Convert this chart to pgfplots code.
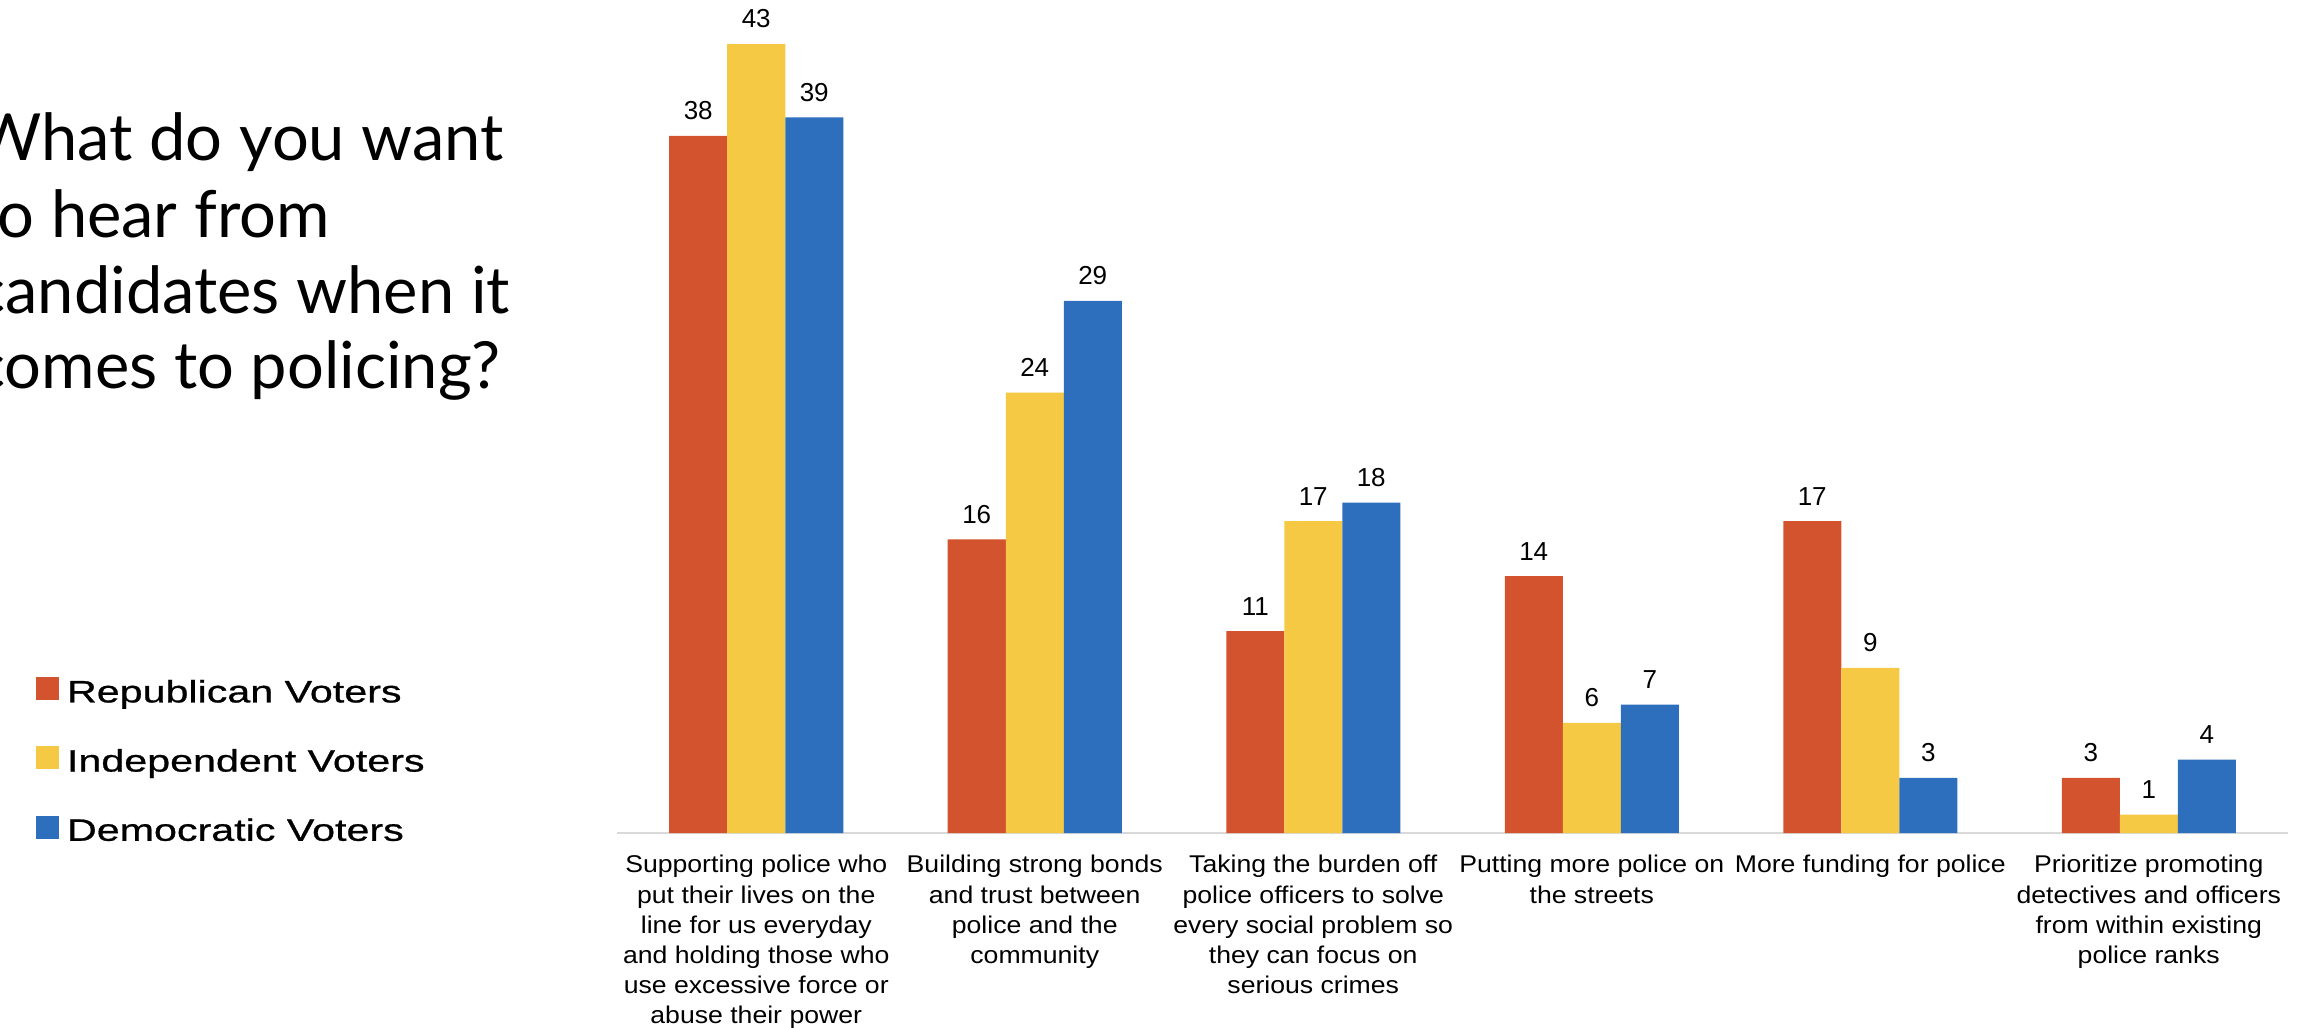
\documentclass[border=0pt]{standalone}
\usepackage{fontspec}
\setmainfont{Liberation Sans}
\newfontfamily\labelfont{Liberation Sans}[FakeStretch=1.1]
\newfontfamily\legendfont{Liberation Sans}[FakeStretch=1.33,FakeBold=0.8]
\newfontfamily\titlefont{Lato}
\usepackage{pgfplots}
\pgfplotsset{compat=1.18}
\definecolor{rep}{HTML}{D4532F}
\definecolor{ind}{HTML}{F6C945}
\definecolor{dem}{HTML}{2E6FBD}
\definecolor{axisgray}{HTML}{D9D9D9}
\begin{document}
\begin{tikzpicture}
\useasboundingbox (0pt,0pt) rectangle (1151.5pt,-514pt);
\tikzset{ttl/.style={anchor=base west, inner sep=0pt, font=\titlefont\fontsize{32.5}{38}\selectfont}}
\node[ttl] at (-13pt,-80pt) {What do you want};
\node[ttl] at (-13pt,-118.5pt) {to hear from};
\node[ttl] at (-13pt,-156.5pt) {candidates when it};
\node[ttl] at (-13pt,-194pt) {comes to policing?};
\begin{axis}[
  at={(308.5pt,-416.5pt)}, anchor=south west,
  scale only axis, width=835.5pt, height=394.5pt,
  ybar, bar width=29pt,
  ymin=0, ymax=43, xmin=-0.5, xmax=5.5,
  axis x line=bottom, axis y line=none,
  axis line style={-},
  x axis line style={draw=axisgray, line width=1pt},
  major tick length=0pt,
  xtick={0,1,2,3,4,5},
  xticklabels={
    {Supporting police who\\put their lives on the\\line for us everyday\\and holding those who\\use excessive force or\\abuse their power},
    {Building strong bonds\\and trust between\\police and the\\community},
    {Taking the burden off\\police officers to solve\\every social problem so\\they can focus on\\serious crimes},
    {Putting more police on\\the streets},
    {More funding for police},
    {Prioritize promoting\\detectives and officers\\from within existing\\police ranks}},
  xticklabel style={font=\labelfont\fontsize{12.1}{15.1}\selectfont, align=center, anchor=north, inner sep=0pt, yshift=-11pt},
  /pgf/number format/assume math mode=true,
  nodes near coords,
  nodes near coords style={font=\fontsize{13}{15}\selectfont, anchor=south, inner sep=0pt, yshift=7.75pt, text=black},
  clip=false,
  legend cell align=left,
  legend style={at={(-0.3477,0.1975)}, anchor=north west, draw=none, fill=none,
    inner sep=0pt, outer sep=0pt, row sep=22pt, column sep=0pt,
    font=\legendfont\fontsize{15.5}{18}\selectfont,
    nodes={inner sep=0pt, text height=11.2pt, text depth=0pt}},
]
\addplot[fill=rep, draw=none, bar shift=-29pt,
  legend image code/.code={\fill[rep] (0pt,-4.5pt) rectangle (11.5pt,7pt); \path (15.5pt,0pt);}]
  coordinates {(0,38) (1,16) (2,11) (3,14) (4,17) (5,3)};
\addlegendentry{Republican Voters}
\addplot[fill=ind, draw=none, bar shift=0pt,
  legend image code/.code={\fill[ind] (0pt,-4.5pt) rectangle (11.5pt,7pt); \path (15.5pt,0pt);}]
  coordinates {(0,43) (1,24) (2,17) (3,6) (4,9) (5,1)};
\addlegendentry{Independent Voters}
\addplot[fill=dem, draw=none, bar shift=29pt,
  legend image code/.code={\fill[dem] (0pt,-4.5pt) rectangle (11.5pt,7pt); \path (15.5pt,0pt);}]
  coordinates {(0,39) (1,29) (2,18) (3,7) (4,3) (5,4)};
\addlegendentry{Democratic Voters}
\end{axis}
\end{tikzpicture}
\end{document}
